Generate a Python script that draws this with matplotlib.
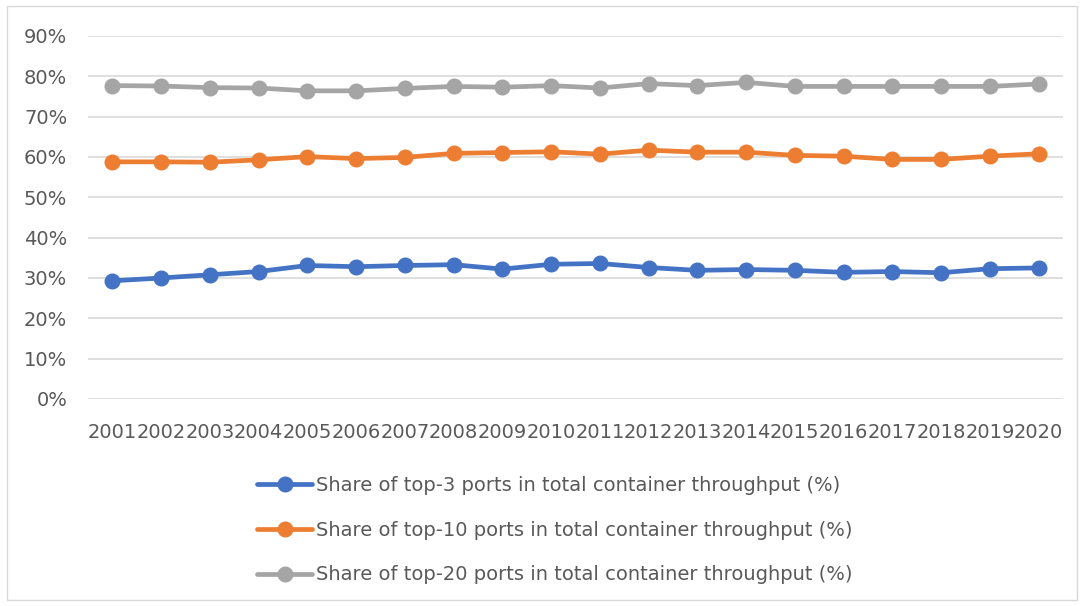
import matplotlib.pyplot as plt
from matplotlib.patches import Rectangle
from matplotlib.ticker import PercentFormatter

years = [str(y) for y in range(2001, 2021)]
top3 = [29.3, 30.0, 30.8, 31.6, 33.1, 32.8, 33.1, 33.3, 32.2, 33.4,
        33.6, 32.6, 31.9, 32.1, 31.9, 31.4, 31.6, 31.3, 32.3, 32.5]
top10 = [58.8, 58.8, 58.7, 59.3, 60.1, 59.6, 59.9, 60.9, 61.1, 61.3,
         60.7, 61.7, 61.2, 61.2, 60.4, 60.2, 59.4, 59.4, 60.2, 60.8]
top20 = [77.7, 77.6, 77.2, 77.1, 76.4, 76.4, 77.0, 77.5, 77.3, 77.7,
         77.1, 78.2, 77.7, 78.5, 77.5, 77.5, 77.5, 77.5, 77.5, 78.1]

labels = [
    "Share of top-3 ports in total container throughput (%)",
    "Share of top-10 ports in total container throughput (%)",
    "Share of top-20 ports in total container throughput (%)",
]
colors = ["#4472C4", "#ED7D31", "#A5A5A5"]
text_color = "#595959"

plt.rcParams["font.family"] = "DejaVu Sans"

fig = plt.figure(figsize=(10.84, 6.06), dpi=100)
ax = fig.add_axes([0.0812, 0.3416, 0.8994, 0.599])

x = range(len(years))
for vals, lab, col in zip([top3, top10, top20], labels, colors):
    ax.plot(x, vals, color=col, lw=3.4, marker="o", markersize=10.5,
            label=lab, solid_capstyle="round")

ax.set_xlim(-0.5, len(years) - 0.5)
ax.set_ylim(0, 90)
ax.set_yticks(range(0, 91, 10))
ax.yaxis.set_major_formatter(PercentFormatter(decimals=0))
ax.set_xticks(list(x))
ax.set_xticklabels(years)
ax.grid(axis="y", color="#D9D9D9", lw=1.2)
ax.set_axisbelow(True)
for s in ax.spines.values():
    s.set_visible(False)
ax.tick_params(length=0, labelsize=14, colors=text_color)
ax.tick_params(axis="y", pad=15)
ax.tick_params(axis="x", pad=17)

fig.legend(loc="upper left", bbox_to_anchor=(0.237, 0.215), frameon=False,
           fontsize=14, labelcolor=text_color, handlelength=2.85,
           handletextpad=0.2, labelspacing=1.33, borderpad=0,
           borderaxespad=0)

# thin outer frame
fig.patches.append(Rectangle((7 / 1084, 6 / 606), 1070 / 1084, 594 / 606,
                             transform=fig.transFigure, fill=False,
                             edgecolor="#D9D9D9", lw=1))

fig.savefig("out.png", dpi=100)
